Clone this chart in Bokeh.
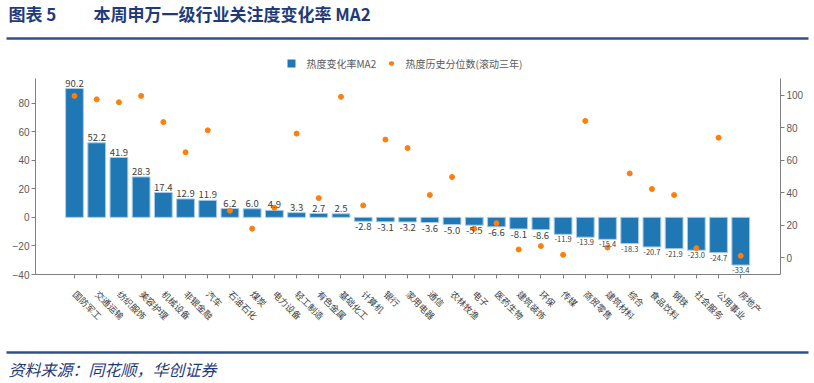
import math
from bokeh.plotting import figure
from bokeh.models import Range1d, LinearAxis, FixedTicker, ColumnDataSource
from bokeh.core.properties import value
from bokeh.embed import file_html
from bokeh.resources import INLINE

categories = ["国防军工", "交通运输", "纺织服饰", "美容护理", "机械设备", "非银金融", "汽车",
              "石油石化", "煤炭", "电力设备", "轻工制造", "有色金属", "基础化工", "计算机",
              "银行", "家用电器", "通信", "农林牧渔", "电子", "医药生物", "建筑装饰", "环保",
              "传媒", "商贸零售", "建筑材料", "综合", "食品饮料", "钢铁", "社会服务",
              "公用事业", "房地产"]
change_ma2 = [90.2, 52.2, 41.9, 28.3, 17.4, 12.9, 11.9, 6.2, 6.0, 4.9, 3.3, 2.7, 2.5,
              -2.8, -3.1, -3.2, -3.6, -5.0, -5.5, -6.6, -8.1, -8.6, -11.9, -13.9, -15.4,
              -18.3, -20.7, -21.9, -23.0, -24.7, -33.4]
percentile = [99.6, 97.5, 95.7, 99.6, 83.5, 64.9, 78.4, 29.0, 17.9, 30.8, 76.4, 36.7, 99.0,
              32.2, 72.7, 67.5, 38.6, 49.7, 17.9, 21.3, 5.1, 7.2, 1.8, 84.2, 6.3, 51.9,
              42.3, 38.6, 5.9, 73.9, 1.2]
left_ticks = [-40, -20, 0, 20, 40, 60, 80]
right_ticks = [0, 20, 40, 60, 80, 100]

title_left = "图表 5"
title_main = "本周申万一级行业关注度变化率 MA2"
legend_bar = "热度变化率MA2"
legend_dot = "热度历史分位数(滚动三年)"
source_text = "资料来源：同花顺，华创证券"

CJK = value("Noto Sans CJK SC")
NAVY = "#1F3A7A"
RULE = "#2E5090"
BAR = "#1F77B4"
DOT = "#FF7F0E"
GREY = "#595959"

# page geometry of the plotting frame (pixels) and its data ranges
W, H = 814, 383
FX0, FX1, FY0, FY1 = 35, 780, 78, 274
XR = (-1.756, 31.79)
YR = (-40.0, 97.2)
PR = (-10.3, 110.3)


def dx(px):
    return XR[0] + (px - FX0) * (XR[1] - XR[0]) / (FX1 - FX0)


def dy(py):
    return YR[1] - (py - FY0) * (YR[1] - YR[0]) / (FY1 - FY0)


n = len(categories)
idx = list(range(n))
p = figure(width=W, height=H, x_range=Range1d(*XR), y_range=Range1d(*YR),
           output_backend="svg", toolbar_location=None,
           min_border_left=FX0, min_border_right=W - FX1,
           min_border_top=FY0, min_border_bottom=H - FY1)
p.grid.visible = False
p.outline_line_color = None
p.extra_y_ranges = {"pct": Range1d(*PR)}

src = ColumnDataSource(dict(x=idx, v=change_ma2, pct=percentile, cat=categories))
p.vbar(x="x", top="v", bottom=0, width=0.8, source=src,
       fill_color=BAR, line_color="#A9CBE8", line_width=1)
p.scatter(x="x", y="pct", source=src, y_range_name="pct", marker="circle", size=5,
          fill_color=DOT, line_color=DOT)

pos = [i for i in idx if change_ma2[i] >= 0]
neg = [i for i in idx if -10 < change_ma2[i] < 0]
small = [i for i in idx if change_ma2[i] <= -10]
for group, base, off, fs in ((pos, "bottom", -2, "9.5px"), (neg, "top", 2, "9.5px"),
                             (small, "top", 2, "7.5px")):
    p.text(x=[i for i in group], y=[change_ma2[i] for i in group],
           text=["%.1f" % change_ma2[i] for i in group], text_font=CJK,
           text_font_size=fs, text_color="#404040", text_align="center",
           text_baseline=base, y_offset=off, level="overlay")

# axes
for ax in (p.xaxis[0], p.yaxis[0]):
    ax.axis_line_color = "#808080"
    ax.major_tick_line_color = "#808080"
    ax.major_tick_out = 4
    ax.major_tick_in = 0
    ax.minor_tick_line_color = None

p.yaxis[0].ticker = FixedTicker(ticks=left_ticks)
p.yaxis[0].major_label_text_font_size = "10px"
p.yaxis[0].major_label_text_color = GREY
p.yaxis[0].major_label_text_font = "Liberation Sans"
p.yaxis[0].major_label_standoff = 2

right = LinearAxis(y_range_name="pct", ticker=FixedTicker(ticks=right_ticks))
right.axis_line_color = "#808080"
right.major_tick_line_color = "#808080"
right.major_tick_out = 4
right.major_tick_in = 0
right.minor_tick_line_color = None
right.major_label_text_font_size = "10px"
right.major_label_text_color = GREY
right.major_label_text_font = "Liberation Sans"
right.major_label_standoff = 2
p.add_layout(right, "right")

xa = p.xaxis[0]
xa.ticker = FixedTicker(ticks=idx)
xa.major_label_overrides = {i: c for i, c in zip(idx, categories)}
xa.major_label_orientation = -math.pi / 4
xa.major_label_text_font = "Noto Sans CJK SC"
xa.major_label_text_font_size = "9px"
xa.major_label_text_color = "#404040"
xa.major_label_standoff = 14

# header: title, rule, legend (outside the frame, drawn at overlay level)
p.text(x=[dx(8)], y=[dy(13)], text=[title_left], text_font=CJK, text_font_size="17px",
       text_font_style="bold", text_color=NAVY, text_baseline="middle", level="overlay")
p.text(x=[dx(93)], y=[dy(13)], text=[title_main], text_font=CJK, text_font_size="17px",
       text_font_style="bold", text_color=NAVY, text_baseline="middle", level="overlay")
p.segment(x0=[dx(6)], y0=[dy(38)], x1=[dx(808)], y1=[dy(38)], line_color=RULE,
          line_width=2.5, level="overlay")
p.segment(x0=[dx(287)], y0=[dy(63)], x1=[dx(295)], y1=[dy(63)], line_color=BAR,
          line_width=8, line_cap="butt", level="overlay")
p.text(x=[dx(306)], y=[dy(63)], text=[legend_bar], text_font=CJK, text_font_size="10px",
       text_color=GREY, text_baseline="middle", level="overlay")
p.segment(x0=[dx(390.6)], y0=[dy(63)], x1=[dx(391.4)], y1=[dy(63)], line_color=DOT,
          line_width=4.5, line_cap="round", level="overlay")
p.text(x=[dx(405)], y=[dy(63)], text=[legend_dot], text_font=CJK, text_font_size="10px",
       text_color=GREY, text_baseline="middle", level="overlay")

# footer: rule and source
p.segment(x0=[dx(6)], y0=[dy(352)], x1=[dx(808)], y1=[dy(352)], line_color=RULE,
          line_width=2.5, level="overlay")
p.text(x=[dx(8)], y=[dy(368)], text=[source_text], text_font=CJK, text_font_size="16px",
       text_font_style="italic", text_color=NAVY, text_baseline="middle", level="overlay")

open("out.html", "w").write(file_html(p, INLINE))
